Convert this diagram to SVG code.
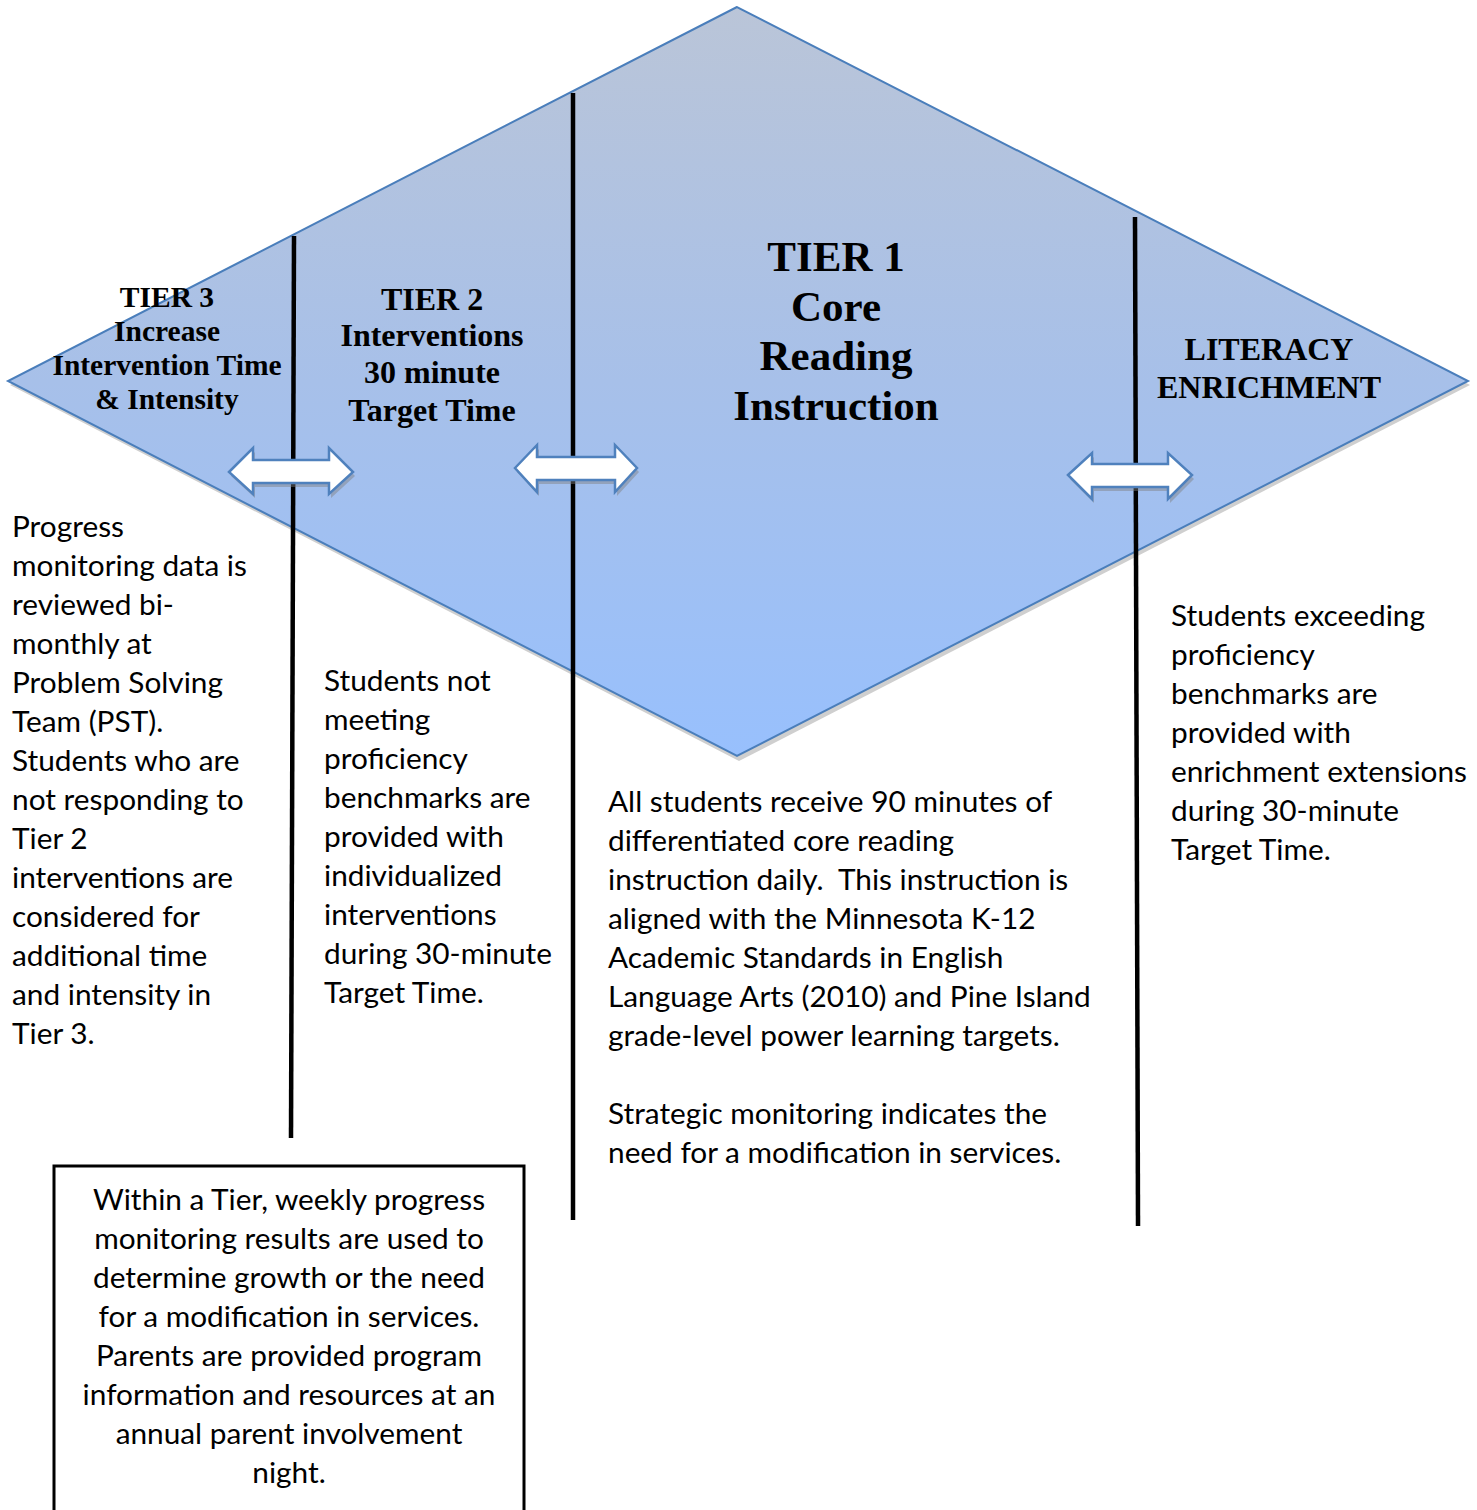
<svg xmlns="http://www.w3.org/2000/svg" width="1477" height="1510" viewBox="0 0 1477 1510">
<style>
.title{font-family:"Liberation Serif","Times New Roman",serif;font-weight:bold;fill:#000;text-anchor:middle}
.body{font-family:Lato,"Open Sans",sans-serif;font-size:29.8px;fill:#000}
.vline{stroke:#000;stroke-width:4.5;fill:none}
.arrow{fill:#fff;stroke:#4f81bd;stroke-width:2.5;stroke-linejoin:miter}
.ashadow{fill:#7f7f7f;opacity:0.45}
</style>
<defs>
<linearGradient id="dg" x1="0" y1="0" x2="0" y2="1">
<stop offset="0" stop-color="#bac5d8"/>
<stop offset="0.5" stop-color="#a7c0e9"/>
<stop offset="1" stop-color="#98c0fd"/>
</linearGradient>
</defs>
<rect width="1477" height="1510" fill="#fff"/>
<g id="diamond">
<polygon points="739,12 10,385 739,761 1470,385" fill="#cfcfcf"/>
<polygon points="737,7 8,381 737,756 1468,381" fill="url(#dg)" stroke="#4a7ebb" stroke-width="2"/>
</g>
<g id="connectors">
<line class="vline" x1="294" y1="236" x2="291" y2="1138"/>
<line class="vline" x1="573" y1="93" x2="573" y2="1220"/>
<line class="vline" x1="1135" y1="217" x2="1138" y2="1226"/>
</g>
<g id="arrow1">
<polygon class="ashadow" points="231,476 255,452 255,464 331,464 331,452 355,476 331,498 331,487 255,487 255,498"/>
<polygon class="arrow" points="229,472 253,448 253,460 329,460 329,448 353,472 329,494 329,483 253,483 253,494"/>
</g>
<g id="arrow2">
<polygon class="ashadow" points="517,472 539,449 539,461 617,461 617,449 639,472 617,496 617,484 539,484 539,496"/>
<polygon class="arrow" points="515,468 537,445 537,457 615,457 615,445 637,468 615,492 615,480 537,480 537,492"/>
</g>
<g id="arrow3">
<polygon class="ashadow" points="1070,479 1094,457 1094,468 1170,468 1170,457 1194,479 1170,503 1170,491 1094,491 1094,503"/>
<polygon class="arrow" points="1068,475 1092,453 1092,464 1168,464 1168,453 1192,475 1168,499 1168,487 1092,487 1092,499"/>
</g>
<g id="tier3-title">
<text class="title" font-size="29.5" x="167" y="307">TIER 3</text>
<text class="title" font-size="29.5" x="167" y="341">Increase</text>
<text class="title" font-size="29.5" x="167" y="375">Intervention Time</text>
<text class="title" font-size="29.5" x="167" y="409">&amp; Intensity</text>
</g>
<g id="tier2-title">
<text class="title" font-size="32" x="432" y="310">TIER 2</text>
<text class="title" font-size="32" x="432" y="346">Interventions</text>
<text class="title" font-size="32" x="432" y="383">30 minute</text>
<text class="title" font-size="32" x="432" y="421">Target Time</text>
</g>
<g id="tier1-title">
<text class="title" font-size="43" x="836" y="271">TIER 1</text>
<text class="title" font-size="43" x="836" y="321">Core</text>
<text class="title" font-size="43" x="836" y="370">Reading</text>
<text class="title" font-size="43" x="836" y="420">Instruction</text>
</g>
<g id="enrichment-title">
<text class="title" font-size="32" x="1269" y="360">LITERACY</text>
<text class="title" font-size="32" x="1269" y="398">ENRICHMENT</text>
</g>
<g id="tier3-text">
<text class="body" x="12" y="537">Progress</text>
<text class="body" x="12" y="576">monitoring data is</text>
<text class="body" x="12" y="615">reviewed bi-</text>
<text class="body" x="12" y="654">monthly at</text>
<text class="body" x="12" y="693">Problem Solving</text>
<text class="body" x="12" y="732">Team (PST).</text>
<text class="body" x="12" y="771">Students who are</text>
<text class="body" x="12" y="810">not responding to</text>
<text class="body" x="12" y="849">Tier 2</text>
<text class="body" x="12" y="888">interventions are</text>
<text class="body" x="12" y="927">considered for</text>
<text class="body" x="12" y="966">additional time</text>
<text class="body" x="12" y="1005">and intensity in</text>
<text class="body" x="12" y="1044">Tier 3.</text>
</g>
<g id="tier2-text">
<text class="body" x="324" y="691">Students not</text>
<text class="body" x="324" y="730">meeting</text>
<text class="body" x="324" y="769">proficiency</text>
<text class="body" x="324" y="808">benchmarks are</text>
<text class="body" x="324" y="847">provided with</text>
<text class="body" x="324" y="886">individualized</text>
<text class="body" x="324" y="925">interventions</text>
<text class="body" x="324" y="964">during 30-minute</text>
<text class="body" x="324" y="1003">Target Time.</text>
</g>
<g id="tier1-text">
<text class="body" x="608" y="812">All students receive 90 minutes of</text>
<text class="body" x="608" y="851">differentiated core reading</text>
<text class="body" x="608" y="890" xml:space="preserve">instruction daily.  This instruction is</text>
<text class="body" x="608" y="929">aligned with the Minnesota K-12</text>
<text class="body" x="608" y="968">Academic Standards in English</text>
<text class="body" x="608" y="1007">Language Arts (2010) and Pine Island</text>
<text class="body" x="608" y="1046">grade-level power learning targets.</text>
<text class="body" x="608" y="1124">Strategic monitoring indicates the</text>
<text class="body" x="608" y="1163">need for a modification in services.</text>
</g>
<g id="enrichment-text">
<text class="body" x="1171" y="626">Students exceeding</text>
<text class="body" x="1171" y="665">proficiency</text>
<text class="body" x="1171" y="704">benchmarks are</text>
<text class="body" x="1171" y="743">provided with</text>
<text class="body" x="1171" y="782">enrichment extensions</text>
<text class="body" x="1171" y="821">during 30-minute</text>
<text class="body" x="1171" y="860">Target Time.</text>
</g>
<g id="note-box">
<rect x="54" y="1166" width="470" height="360" fill="#fff" stroke="#000" stroke-width="3"/>
<text class="body" text-anchor="middle" x="289" y="1210">Within a Tier, weekly progress</text>
<text class="body" text-anchor="middle" x="289" y="1249">monitoring results are used to</text>
<text class="body" text-anchor="middle" x="289" y="1288">determine growth or the need</text>
<text class="body" text-anchor="middle" x="289" y="1327">for a modification in services.</text>
<text class="body" text-anchor="middle" x="289" y="1366">Parents are provided program</text>
<text class="body" text-anchor="middle" x="289" y="1405">information and resources at an</text>
<text class="body" text-anchor="middle" x="289" y="1444">annual parent involvement</text>
<text class="body" text-anchor="middle" x="289" y="1483">night.</text>
</g>
</svg>
